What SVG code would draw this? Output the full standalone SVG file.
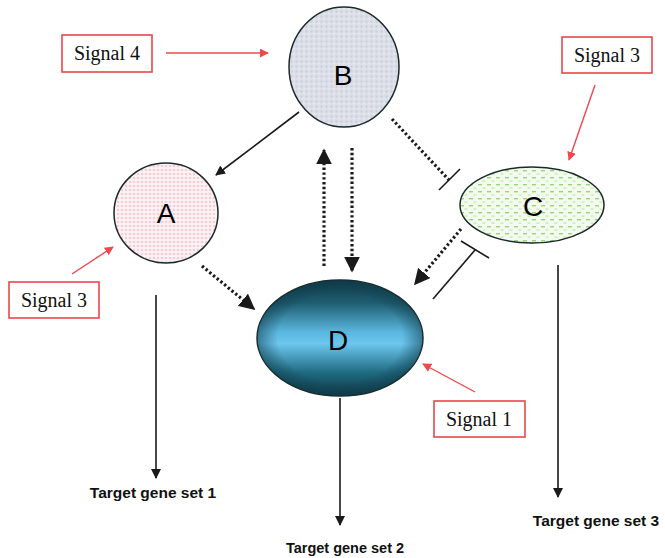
<svg xmlns="http://www.w3.org/2000/svg" width="665" height="558" viewBox="0 0 665 558">
<style>
.node{stroke:#1a2a2a;stroke-width:1.5}
.lbl{font-family:"Liberation Sans",Arial,sans-serif;font-size:28px;fill:#000;text-anchor:middle}
.sig rect{fill:#fff;stroke:#e8474c;stroke-width:1.6}
.sig text{font-family:"Liberation Serif","Times New Roman",serif;font-size:20px;fill:#111;text-anchor:middle}
.red{stroke:#f0474c;stroke-width:1.4;fill:none}
.solid{stroke:#1a1a1a;stroke-width:1.6;fill:none}
.dot{stroke:#1a1a1a;stroke-width:3.2;fill:none;stroke-dasharray:2.4 2.4}
.tgt{font-family:"Liberation Sans",Arial,sans-serif;font-weight:bold;fill:#111;text-anchor:middle}
</style>
<defs>
<marker id="ah" viewBox="0 0 10 10" refX="9" refY="5" markerWidth="10" markerHeight="10" markerUnits="userSpaceOnUse" orient="auto"><path d="M0,0 L10,5 L0,10 z" fill="#1a1a1a"/></marker>
<marker id="ahd" viewBox="0 0 10 10" refX="9" refY="5" markerWidth="5" markerHeight="5" orient="auto"><path d="M0,0 L10,5 L0,10 z" fill="#1a1a1a"/></marker>
<marker id="ahr" viewBox="0 0 10 10" refX="9" refY="5" markerWidth="9" markerHeight="9" markerUnits="userSpaceOnUse" orient="auto"><path d="M0,0 L10,5 L0,10 z" fill="#f0474c"/></marker>
<pattern id="pA" width="4" height="4" patternUnits="userSpaceOnUse"><rect width="4" height="4" fill="#fdf0f3"/><circle cx="2" cy="2" r="0.9" fill="#f4b8c8"/></pattern>
<pattern id="pC" width="9" height="7" patternUnits="userSpaceOnUse"><rect width="9" height="7" fill="#f3faee"/><rect x="1" y="2" width="4" height="1.4" fill="#9ad57a"/><rect x="5.5" y="5.5" width="3" height="1.1" fill="#c2e6aa"/></pattern>
<pattern id="pB" width="5" height="5" patternUnits="userSpaceOnUse"><rect width="5" height="5" fill="#dcdee8"/><circle cx="1.5" cy="1.5" r="1" fill="#c8cbda"/><circle cx="4" cy="3.8" r="0.8" fill="#eef0f5"/></pattern>
<linearGradient id="gD" x1="0" y1="0" x2="0" y2="1">
<stop offset="0" stop-color="#0f3a48"/>
<stop offset="0.2" stop-color="#1f5e72"/>
<stop offset="0.45" stop-color="#5bb7df"/>
<stop offset="0.55" stop-color="#6cc6ee"/>
<stop offset="0.8" stop-color="#1f6a80"/>
<stop offset="1" stop-color="#0f3a48"/>
</linearGradient>
<radialGradient id="gDs" cx="0.5" cy="0.5" r="0.5">
<stop offset="0.75" stop-color="#0f3a48" stop-opacity="0"/>
<stop offset="1" stop-color="#0f3a48" stop-opacity="0.55"/>
</radialGradient>
</defs>

<g id="connectors">
<line class="solid" x1="299" y1="112" x2="216" y2="175" marker-end="url(#ah)"/>
<line class="dot" x1="392" y1="119" x2="449" y2="180"/>
<line class="solid" x1="439" y1="190" x2="460" y2="169"/>
<line class="dot" x1="324" y1="266" x2="324" y2="150" marker-end="url(#ahd)"/>
<line class="dot" x1="352" y1="148" x2="352" y2="271" marker-end="url(#ahd)"/>
<line class="dot" x1="461" y1="229" x2="415" y2="284" marker-end="url(#ahd)"/>
<line class="solid" x1="433" y1="299" x2="475" y2="250"/>
<line class="solid" x1="461" y1="241" x2="489" y2="258"/>
<line class="dot" x1="202" y1="266" x2="254" y2="309" marker-end="url(#ahd)"/>
<line class="solid" x1="156" y1="295" x2="156" y2="478" marker-end="url(#ah)"/>
<line class="solid" x1="340" y1="398" x2="340" y2="525" marker-end="url(#ah)"/>
<line class="solid" x1="558" y1="265" x2="558" y2="497" marker-end="url(#ah)"/>
<line class="red" x1="166" y1="53" x2="268" y2="53" marker-end="url(#ahr)"/>
<line class="red" x1="72" y1="274" x2="113" y2="247" marker-end="url(#ahr)"/>
<line class="red" x1="595" y1="85" x2="569" y2="160" marker-end="url(#ahr)"/>
<line class="red" x1="475" y1="392" x2="423" y2="364" marker-end="url(#ahr)"/>
</g>

<g id="nodeB">
<ellipse class="node" cx="344" cy="67" rx="55" ry="60" fill="url(#pB)"/>
<text class="lbl" x="343" y="85">B</text>
</g>
<g id="nodeA">
<ellipse class="node" cx="166" cy="213" rx="52" ry="50" fill="url(#pA)"/>
<text class="lbl" x="166" y="223">A</text>
</g>
<g id="nodeC">
<ellipse class="node" cx="532" cy="205" rx="72" ry="38" fill="url(#pC)"/>
<text class="lbl" x="533" y="216">C</text>
</g>
<g id="nodeD">
<ellipse class="node" cx="340" cy="338" rx="83" ry="58" fill="url(#gD)"/>
<ellipse cx="340" cy="338" rx="83" ry="58" fill="url(#gDs)"/>
<text class="lbl" x="338" y="350">D</text>
</g>

<g id="signal4" class="sig">
<rect x="62" y="35" width="90" height="37"/>
<text x="107" y="60">Signal 4</text>
</g>
<g id="signal3a" class="sig">
<rect x="9" y="282" width="90" height="36"/>
<text x="54" y="307">Signal 3</text>
</g>
<g id="signal3b" class="sig">
<rect x="562" y="37" width="90" height="36"/>
<text x="607" y="62">Signal 3</text>
</g>
<g id="signal1" class="sig">
<rect x="434" y="401" width="91" height="36"/>
<text x="479" y="426">Signal 1</text>
</g>

<g id="targets">
<text class="tgt" x="153" y="498" font-size="15.5">Target gene set 1</text>
<text class="tgt" x="345" y="553" font-size="14.5">Target gene set 2</text>
<text class="tgt" x="596" y="526" font-size="15.5">Target gene set 3</text>
</g>
</svg>
